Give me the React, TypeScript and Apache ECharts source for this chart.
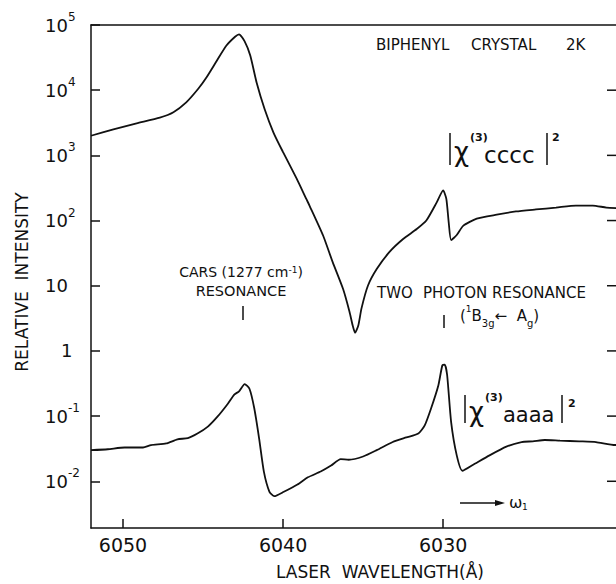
import React, { useEffect, useRef } from "react";
import * as echarts from "echarts";

const FONT = "DejaVu Sans";
const INK = "#111";

// wavelength (Å) and relative intensity, |chi(3) cccc|^2
const upperLambda = [6052, 6050.6, 6049.15, 6047.7, 6046.85, 6046.05, 6045.3, 6044.8, 6044.15, 6043.55, 6043.0, 6042.75, 6042.4, 6042.05, 6041.65, 6041.15, 6040.6, 6040.0, 6039.15, 6038.55, 6038.35, 6037.5, 6036.9, 6036.25, 6035.85, 6035.65, 6035.5, 6035.3, 6035.1, 6034.7, 6034.15, 6033.35, 6032.5, 6031.65, 6031.05, 6030.4, 6030.0, 6029.8, 6029.65, 6029.5, 6029.15, 6028.75, 6027.9, 6026.65, 6025.45, 6024.2, 6022.95, 6021.7, 6020.65, 6019.8, 6019];
const upperValue = [2000, 2500, 3100, 3800, 4600, 6500, 10500, 15500, 28000, 48000, 66000, 72000, 56000, 34000, 13000, 5100, 2240, 1120, 440, 215, 170, 59, 23, 8.9, 4.0, 2.45, 1.9, 2.45, 4.5, 10, 18, 33, 52, 74, 100, 190, 290, 215, 93, 50, 60, 83, 107, 123, 138, 148, 158, 170, 170, 158, 155];

// |chi(3) aaaa|^2
const lowerLambda = [6052, 6050.95, 6049.9, 6048.75, 6048.25, 6047.3, 6046.6, 6045.95, 6045.35, 6044.7, 6044.1, 6043.45, 6043.05, 6042.75, 6042.4, 6042.1, 6041.8, 6041.5, 6041.2, 6040.85, 6040.55, 6039.95, 6039.1, 6038.45, 6037.65, 6037.0, 6036.4, 6035.9, 6035.0, 6034.15, 6033.15, 6032.3, 6031.55, 6031.15, 6030.75, 6030.3, 6030.05, 6029.9, 6029.75, 6029.5, 6029.15, 6028.8, 6028.15, 6027.1, 6026.05, 6025.1, 6024.4, 6023.65, 6022.7, 6021.5, 6020.45, 6019.25, 6019];
const lowerValue = [0.030, 0.031, 0.033, 0.033, 0.036, 0.038, 0.044, 0.046, 0.054, 0.069, 0.098, 0.155, 0.214, 0.24, 0.31, 0.263, 0.132, 0.046, 0.0141, 0.0069, 0.0059, 0.0069, 0.0089, 0.0115, 0.0141, 0.0174, 0.0219, 0.0214, 0.024, 0.030, 0.040, 0.047, 0.054, 0.072, 0.132, 0.295, 0.60, 0.617, 0.427, 0.081, 0.025, 0.0145, 0.0178, 0.025, 0.034, 0.040, 0.041, 0.043, 0.042, 0.041, 0.040, 0.036, 0.036];

const xTicks = [6030, 6040, 6050];
const rightTicks = [0.01, 0.1, 1, 10, 100, 1000, 10000];
const xMin = 6019.2;
const xMax = 6052;
const yMin = 0.00192;
const yMax = 100000;

const txt = (text: string, x: number, y: number, fontSize: number, align = "left", extra: any = {}) => ({
  type: "text",
  x,
  y,
  silent: true,
  style: {
    text,
    fontSize,
    fontFamily: FONT,
    fill: INK,
    align,
    textAlign: align,
    verticalAlign: "middle",
    textVerticalAlign: "middle",
    ...extra,
  },
});

const ln = (x1: number, y1: number, x2: number, y2: number, w = 1.5) => ({
  type: "line",
  silent: true,
  shape: { x1, y1, x2, y2 },
  style: { stroke: INK, lineWidth: w },
});

export default function App() {
  const ref = useRef<HTMLDivElement>(null);
  useEffect(() => {
    if (!ref.current) return;
    const chart = echarts.init(ref.current, null, { renderer: "svg" });
    const yFormatter = (v: number) => {
      const e = Math.round(Math.log10(v));
      if (e === 0) return "{one|1}";
      if (e === 1) return "{b|10}";
      return `{b|10}{s|${e}}`;
    };
    const subRich = {
      sub: { fontSize: 10, fontFamily: FONT, fill: INK, color: INK, verticalAlign: "bottom", lineHeight: 10 },
      sup: { fontSize: 9, fontFamily: FONT, fill: INK, color: INK, verticalAlign: "top", lineHeight: 9 },
      m: { fontSize: 15, fontFamily: FONT, fill: INK, color: INK, lineHeight: 24, verticalAlign: "middle" },
    };
    const titleY = txt("RELATIVE  INTENSITY", 22, 282, 17, "center");
    (titleY as any).rotation = Math.PI / 2;
    const option: any = {
      animation: false,
      backgroundColor: "#fff",
      grid: {
        left: 91,
        top: 25,
        width: 525,
        height: 503,
        show: false,
        outerBoundsMode: "none",
      },
      xAxis: [
        {
          type: "value",
          min: xMin,
          max: xMax,
          inverse: true,
          axisLine: { show: true, lineStyle: { color: INK, width: 1.5 } },
          axisTick: { show: true, inside: true, length: 9, customValues: xTicks, lineStyle: { color: INK, width: 1.5 } },
          axisLabel: {
            customValues: xTicks,
            fontSize: 19,
            fontFamily: FONT,
            color: INK,
            margin: 7,
            formatter: (v: number) => String(Math.round(v)),
          },
          splitLine: { show: false },
        },
        {
          type: "value",
          position: "top",
          min: xMin,
          max: xMax,
          inverse: true,
          axisLine: { show: true, lineStyle: { color: INK, width: 1.5 } },
          axisTick: { show: false },
          axisLabel: { show: false },
          splitLine: { show: false },
        },
      ],
      yAxis: [
        {
          type: "log",
          logBase: 10,
          min: yMin,
          max: yMax,
          axisLine: { show: true, lineStyle: { color: INK, width: 1.5 } },
          axisTick: { show: true, inside: true, length: 9, lineStyle: { color: INK, width: 1.5 } },
          axisLabel: {
            showMinLabel: false,
            align: "left",
            margin: 46,
            color: INK,
            formatter: yFormatter,
            rich: {
              b: { fontSize: 18, fontFamily: FONT, color: INK, lineHeight: 28, verticalAlign: "middle" },
              s: { fontSize: 12, fontFamily: FONT, color: INK, lineHeight: 12, verticalAlign: "top" },
              one: { fontSize: 18, fontFamily: FONT, color: INK, lineHeight: 28, padding: [0, 0, 0, 16] },
            },
          },
          splitLine: { show: false },
        },
      ],
      series: [
        {
          type: "line",
          name: "cccc",
          data: upperLambda.map((l, i) => [l, upperValue[i]]),
          showSymbol: false,
          smooth: 0.2,
          lineStyle: { color: INK, width: 1.8 },
          clip: true,
        },
        {
          type: "line",
          name: "aaaa",
          data: lowerLambda.map((l, i) => [l, lowerValue[i]]),
          showSymbol: false,
          smooth: 0.2,
          lineStyle: { color: INK, width: 1.8 },
          clip: true,
        },
        {
          // right-hand inward ticks at each decade
          type: "custom",
          name: "rightTicks",
          silent: true,
          clip: false,
          data: rightTicks.map((v) => [xMin, v]),
          renderItem: (params: any, api: any) => {
            const p = api.coord([api.value(0), api.value(1)]);
            return {
              type: "line",
              shape: { x1: p[0] - 9, y1: p[1], x2: p[0], y2: p[1] },
              style: { stroke: INK, lineWidth: 1.5 },
            };
          },
        },
      ],
      graphic: [
        titleY,
        txt("LASER  WAVELENGTH(Å)", 380, 572, 17, "center"),
        txt("BIPHENYL", 376, 45, 15),
        txt("CRYSTAL", 471, 45, 15),
        txt("2K", 566, 45, 15),
        ln(450, 133, 450, 165, 1.5),
        txt("χ", 454, 152, 26),
        txt("(3)", 470, 137, 11, "left", { fontWeight: "bold" }),
        txt("cccc", 484, 155, 23),
        ln(547, 133, 547, 165, 1.5),
        txt("2", 552, 137, 11, "left", { fontWeight: "bold" }),
        ln(465, 395, 465, 423, 1.5),
        txt("χ", 469, 412, 26),
        txt("(3)", 485, 397, 11, "left", { fontWeight: "bold" }),
        txt("aaaa", 503, 415, 21),
        ln(562, 395, 562, 423, 1.5),
        txt("2", 568, 403, 11, "left", { fontWeight: "bold" }),
        txt("", 241, 272, 14, "center", {
          text: "CARS (1277 cm{sup|-1})",
          rich: { sup: { fontSize: 9, fontFamily: FONT, fill: INK, verticalAlign: "top", lineHeight: 9 } },
        }),
        txt("RESONANCE", 241, 291, 14.5, "center"),
        ln(243, 306, 243, 320, 1.5),
        txt("TWO", 377, 293, 15),
        txt("PHOTON", 423, 293, 15),
        txt("RESONANCE", 492, 293, 15),
        txt("", 460, 316, 15, "left", {
          text: "{m|(}{sup|1}{m|B}{sub|3g}{m|←  A}{sub|g}{m|)}",
          rich: subRich,
        }),
        ln(444, 315, 444, 328, 1.5),
        ln(460, 503, 498, 503, 1.3),
        {
          type: "polygon",
          silent: true,
          shape: { points: [[505, 503], [495, 500], [495, 506]] },
          style: { fill: INK },
        },
        txt("ω", 509, 502, 16),
        txt("1", 522, 507, 9),
      ],
    };
    chart.setOption(option);
    return () => chart.dispose();
  }, []);
  return <div ref={ref} style={{ position: "fixed", left: 0, top: 0, width: 616, height: 584 }} />;
}
